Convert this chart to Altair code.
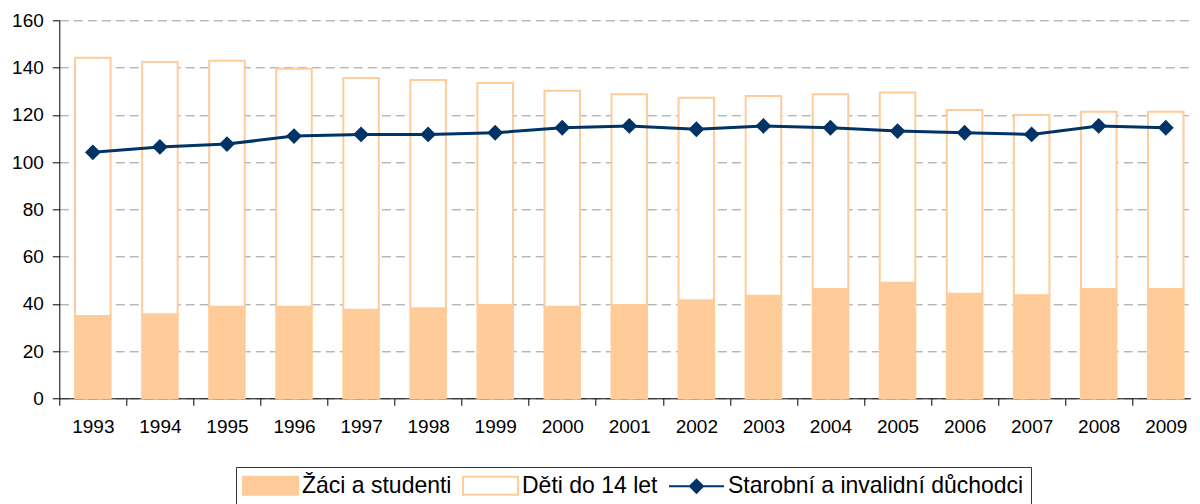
import altair as alt
import pandas as pd

years = [str(y) for y in range(1993, 2010)]
zaci = [34.8, 35.6, 38.8, 38.8, 37.5, 38.1, 39.5, 38.8, 39.5, 41.5, 43.4, 46.3, 48.9, 44.3, 43.6, 46.3, 46.3]
deti = [109.4, 106.7, 104.1, 100.7, 98.1, 96.6, 94.0, 91.4, 89.2, 85.7, 84.6, 82.4, 80.5, 77.7, 76.3, 75.0, 75.0]
duchodci = [104.1, 106.4, 107.6, 111.0, 111.7, 111.7, 112.4, 114.5, 115.3, 113.9, 115.3, 114.5, 113.1, 112.4, 111.7, 115.3, 114.5]

series = ["Žáci a studenti", "Děti do 14 let", "Starobní a invalidní důchodci"]
fill_colors = ["#FFCC99", "#FFFFFF", "#003366"]
stroke_colors = ["#FFCC99", "#FFCC99", "#003366"]
y_ticks = [0, 20, 40, 60, 80, 100, 120, 140, 160]

bar_rows = []
for i, y in enumerate(years):
    bar_rows.append({"year": y, "series": series[0], "value": zaci[i], "ord": 0})
    bar_rows.append({"year": y, "series": series[1], "value": deti[i], "ord": 1})
bar_df = pd.DataFrame(bar_rows)
line_df = pd.DataFrame({"year": years, "series": series[2], "value": duchodci})

FONT = "Liberation Sans"

fill_scale = alt.Scale(domain=series, range=fill_colors)
stroke_scale = alt.Scale(domain=series, range=stroke_colors)

# legend symbols: symbolSize 324 -> unit = 9px; entry offset = 23px (label font size)
rect_path = "M-1.278,-1H4.833V1H-1.278Z"
line_path = "M-1.278,0H4.833M1.778,-0.72L2.498,0L1.778,0.72L1.058,0Z"
sym_type = ("datum.value === '" + series[2] + "' ? '" + line_path + "' : '" + rect_path + "'")


def make_legend():
    return alt.Legend(
        title=None,
        orient="none",
        direction="horizontal",
        legendX=176.7,
        legendY=446.7,
        symbolType=alt.ExprRef(expr=sym_type),
        symbolStrokeWidth=2,
        symbolSize=324,
        symbolOpacity=1,
        labelFont=FONT,
        labelFontSize=23,
        labelColor="#000000",
        labelOffset=36,
        labelLimit=600,
        columnPadding=6,
        padding=7,
        strokeColor="#333333",
        fillColor="#FFFFFF",
    )


x_enc = alt.X(
    "year:N",
    sort=years,
    scale=alt.Scale(paddingInner=0, paddingOuter=0, range=[0, 1140]),
    axis=alt.Axis(
        title=None,
        labelAngle=0,
        tickBand="extent",
        tickSize=7,
        labelPadding=12,
        grid=False,
        labelFont=FONT,
        labelFontSize=19,
        labelColor="#000000",
        domainColor="#000000",
        tickColor="#000000",
    ),
)

y_scale = alt.Scale(domain=[0, 160], nice=False)

bars = alt.Chart(bar_df).mark_bar(
    width=alt.RelativeBandSize(0.53),
    strokeWidth=2,
).encode(
    x=x_enc,
    y=alt.Y(
        "value:Q",
        stack="zero",
        scale=y_scale,
        axis=alt.Axis(
            title=None,
            values=y_ticks,
            grid=True,
            gridDash=[9, 5],
            gridColor="#999999",
            tickSize=7,
            labelPadding=9,
            labelFont=FONT,
            labelFontSize=19,
            labelColor="#000000",
            domainColor="#000000",
            tickColor="#000000",
        ),
    ),
    fill=alt.Fill("series:N", scale=fill_scale, legend=make_legend()),
    stroke=alt.Stroke("series:N", scale=stroke_scale, legend=make_legend()),
    order=alt.Order("ord:Q"),
)

line = alt.Chart(line_df).mark_line(
    strokeWidth=3,
    point=alt.OverlayMarkDef(shape="diamond", size=170, filled=True, fill="#003366", opacity=1),
).encode(
    x=alt.X("year:N", sort=years),
    y=alt.Y("value:Q", scale=y_scale),
    stroke=alt.Stroke("series:N", scale=stroke_scale, legend=make_legend()),
)

chart = alt.layer(bars, line).properties(
    width=1132,
    height=378,
    autosize=alt.AutoSizeParams(type="none"),
    padding={"left": 51.3, "top": 12.3, "right": 0, "bottom": 110},
).configure_view(stroke=None)

chart.save("out.html", embed_options={"renderer": "svg", "actions": False})
